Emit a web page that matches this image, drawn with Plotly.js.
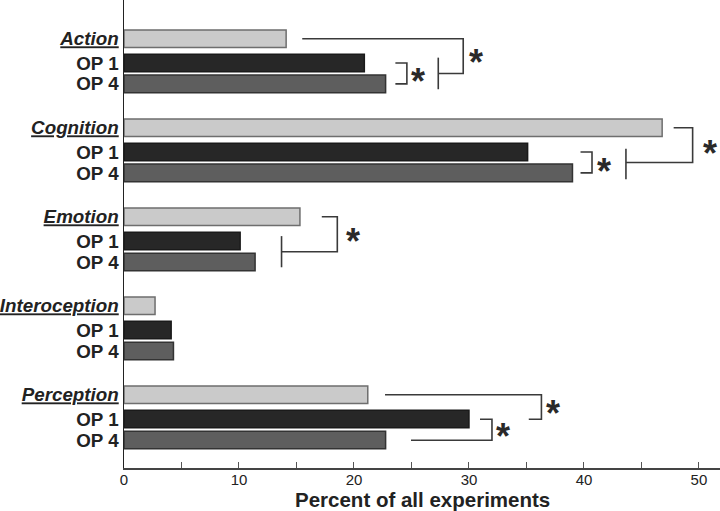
<!DOCTYPE html>
<html>
<head>
<meta charset="utf-8">
<script src="https://cdn.plot.ly/plotly-3.0.1.min.js"></script>
<style>html,body{margin:0;padding:0;background:#fff;}#chart{width:720px;height:511px;}</style>
</head>
<body>
<div id="chart"></div>
<script>
// ---- data ----
const categories = ['Action', 'Cognition', 'Emotion', 'Interoception', 'Perception'];
const subLabels = ['OP 1', 'OP 4'];
const allValues = [14.1, 46.8, 15.3, 2.7, 21.2];
const op1Values = [20.9, 35.1, 10.1, 4.1, 30.0];
const op4Values = [22.75, 39.0, 11.4, 4.3, 22.75];
const xTitle = 'Percent of all experiments';

// ---- layout helpers ----
const GROUP = 4;               // slot units per group
const OFF = [0, 1.09, 2.03];   // offsets within group
const pos = (g, k) => g * GROUP + OFF[k];

const yAll = categories.map((c, g) => pos(g, 0));
const yOp1 = categories.map((c, g) => pos(g, 1));
const yOp4 = categories.map((c, g) => pos(g, 2));

const tickvals = [], ticktext = [];
categories.forEach((c, g) => {
  tickvals.push(pos(g, 0)); ticktext.push('<i><u>' + c + '</u></i>');
  tickvals.push(pos(g, 1)); ticktext.push(subLabels[0]);
  tickvals.push(pos(g, 2)); ticktext.push(subLabels[1]);
});

const BW = 0.79;
const lineC = '#3a3a3a';
const traces = [
  {type: 'bar', orientation: 'h', x: allValues, y: yAll, width: BW,
   marker: {color: '#cacaca', line: {color: '#6e6e6e', width: 1.5}}, hoverinfo: 'x'},
  {type: 'bar', orientation: 'h', x: op1Values, y: yOp1, width: BW,
   marker: {color: '#272727', line: {color: '#1a1a1a', width: 1.5}}, hoverinfo: 'x'},
  {type: 'bar', orientation: 'h', x: op4Values, y: yOp4, width: BW,
   marker: {color: '#5e5e5e', line: {color: '#333333', width: 1.5}}, hoverinfo: 'x'}
];

// significance brackets: [group, path points as [x, yOffset]], asterisk [x, yOffset]
const brackets = [
  {g: 0, pts: [[23.6, 1.09], [24.6, 1.09], [24.6, 2.03], [23.6, 2.03]], star: [25.6, 1.63]},
  {g: 0, pts: [[15.5, 0], [29.5, 0], [29.5, 1.56], [27.33, 1.56]], bar: [27.33, 0.85, 2.27], star: [30.6, 0.82]},
  {g: 1, pts: [[39.7, 1.09], [40.7, 1.09], [40.7, 2.03], [39.7, 2.03]], star: [41.7, 1.71]},
  {g: 1, pts: [[47.8, 0], [49.45, 0], [49.45, 1.56], [43.65, 1.56]], bar: [43.65, 0.94, 2.32], star: [50.96, 0.9]},
  {g: 2, pts: [[17.2, 0], [18.55, 0], [18.55, 1.57], [13.7, 1.57]], bar: [13.7, 0.87, 2.27], star: [19.9, 0.82]},
  {g: 4, pts: [[22.7, 0], [36.3, 0], [36.3, 1.1], [35.2, 1.1]], star: [37.3, 0.55]},
  {g: 4, pts: [[30.96, 1.1], [32.0, 1.1], [32.0, 2.04], [24.96, 2.04]], star: [33.0, 1.59]}
];

const starFont = {family: 'Liberation Sans, Arial, sans-serif', size: 36, color: '#2a2a2a', weight: 'bold'};
const shapes = [], annotations = [];
brackets.forEach(b => {
  const base = b.g * GROUP;
  const d = b.pts.map((p, i) => (i ? 'L' : 'M') + p[0] + ',' + (base + p[1])).join(' ');
  shapes.push({type: 'path', xref: 'x', yref: 'y', path: d, line: {color: lineC, width: 1.6}});
  if (b.bar) {
    shapes.push({type: 'line', xref: 'x', yref: 'y', x0: b.bar[0], x1: b.bar[0],
      y0: base + b.bar[1], y1: base + b.bar[2], line: {color: lineC, width: 1.6}});
  }
  annotations.push({xref: 'x', yref: 'y', x: b.star[0], y: base + b.star[1], text: '*',
    showarrow: false, xanchor: 'center', yanchor: 'middle', yshift: -6, font: starFont});
});

// x-axis title as an annotation so it can sit tight under the tick labels
annotations.push({xref: 'paper', yref: 'paper', x: 0.5, y: 0, yshift: -31.5,
  xanchor: 'center', yanchor: 'middle', showarrow: false, borderpad: 0,
  text: '<b>' + xTitle + '</b>',
  font: {family: 'Liberation Sans, Arial, sans-serif', size: 20.5, color: '#222'}});

const layout = {
  width: 720, height: 511,
  margin: {l: 124, r: 0, t: 0, b: 43},
  paper_bgcolor: '#fff', plot_bgcolor: '#fff',
  showlegend: false,
  bargap: 0,
  font: {family: 'Liberation Sans, Arial, sans-serif', color: '#222'},
  xaxis: {
    range: [0, 51.83], showgrid: false, zeroline: false,
    showline: true, linecolor: '#444', linewidth: 1.5,
    ticks: 'inside', ticklen: 6, tickcolor: '#555', tickwidth: 1,
    tickvals: [0, 10, 20, 30, 40, 50],
    minor: {tickvals: [5, 15, 25, 35, 45], ticks: 'inside', ticklen: 6, tickcolor: '#555'},
    tickfont: {size: 15, color: '#222'},
    ticklabelstandoff: -3
  },
  yaxis: {
    range: [19.29, -1.74], showgrid: false, zeroline: false,
    showline: true, linecolor: '#222', linewidth: 1.5, ticks: '',
    tickvals: tickvals, ticktext: ticktext,
    tickfont: {size: 18.8, color: '#222', weight: 'bold'}
  },
  shapes: shapes,
  annotations: annotations
};

Plotly.newPlot('chart', traces, layout, {displayModeBar: false, staticPlot: true});
</script>
</body>
</html>
